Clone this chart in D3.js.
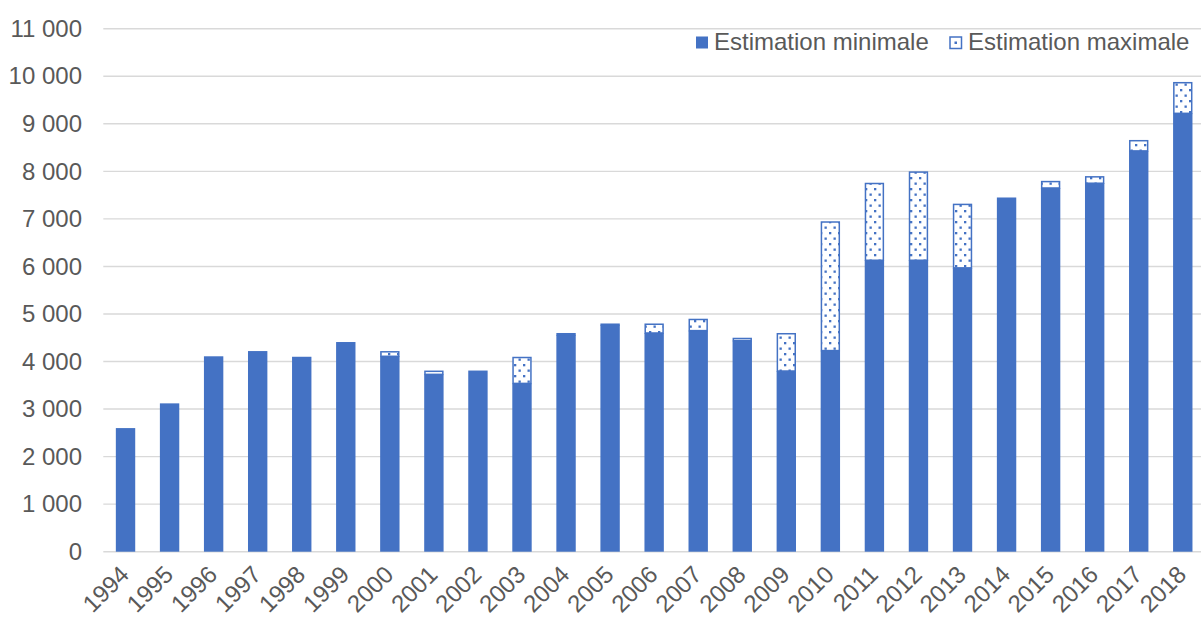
<!DOCTYPE html>
<html><head><meta charset="utf-8">
<script src="https://cdn.jsdelivr.net/npm/d3@7"></script>
<style>
html,body{margin:0;padding:0;background:#fff;}
svg{display:block;font-family:"Liberation Sans",Arial,sans-serif;}
</style></head>
<body>
<svg id="chart" width="1201" height="618"></svg>
<script>
const years = ["1994","1995","1996","1997","1998","1999","2000","2001","2002","2003","2004","2005","2006","2007","2008","2009","2010","2011","2012","2013","2014","2015","2016","2017","2018"];
const minValues = [2600,3120,4110,4220,4100,4410,4110,3730,3810,3540,4560,4770,4600,4650,4440,3800,4230,6130,6130,5970,7450,7650,7750,8430,9220];
const maxValues = [2600,3120,4110,4220,4100,4410,4220,3810,3810,4100,4600,4800,4800,4900,4500,4600,6950,7760,8000,7320,7450,7800,7900,8660,9880];
const yTicks = [0,1000,2000,3000,4000,5000,6000,7000,8000,9000,10000,11000];
const seriesNames = ["Estimation minimale","Estimation maximale"];

const blue = "#4472c4", grid = "#d9d9d9", textColor = "#595959";
const svg = d3.select("#chart");

const defs = svg.append("defs");
const pat = defs.append("pattern").attr("id","dots").attr("patternUnits","userSpaceOnUse")
  .attr("width",9).attr("height",11);
pat.append("rect").attr("width",9).attr("height",11).attr("fill","#fff");
pat.append("rect").attr("x",1).attr("y",1).attr("width",2.3).attr("height",2.3).attr("fill",blue);
pat.append("rect").attr("x",5.5).attr("y",6.5).attr("width",2.3).attr("height",2.3).attr("fill",blue);

const x = d3.scaleBand().domain(years).range([103.5, 1204.8]).paddingInner(0.56).paddingOuter(0.28);
const y = d3.scaleLinear().domain([0,11000]).range([551.7, 28.7]);
const loc = d3.formatLocale({decimal:",", thousands:" ", grouping:[3], currency:["","€"]});
const fmt = loc.format(",d");

// gridlines
svg.append("g").selectAll("line").data(yTicks).join("line")
  .attr("x1",103.3).attr("x2",1201)
  .attr("y1",d=>y(d)).attr("y2",d=>y(d))
  .attr("stroke",grid).attr("stroke-width",1.4);

// y axis labels
const yAxis = d3.axisLeft(y).tickValues(yTicks).tickFormat(fmt).tickSize(0).tickPadding(0);
const gy = svg.append("g").attr("transform","translate(82,0)").call(yAxis);
gy.select(".domain").remove();
gy.selectAll("text").attr("fill",textColor).attr("font-size",24).attr("font-family","Liberation Sans, Arial, sans-serif").attr("dy","0.32em");

// bars min
svg.append("g").selectAll("rect").data(years).join("rect")
  .attr("x",d=>x(d)).attr("width",x.bandwidth())
  .attr("y",(d,i)=>y(minValues[i])).attr("height",(d,i)=>y(0)-y(minValues[i]))
  .attr("fill",blue);

// bars max increment
svg.append("g").selectAll("rect").data(years.filter((d,i)=>maxValues[i]>minValues[i])).join("rect")
  .attr("x",d=>x(d)+0.75).attr("width",x.bandwidth()-1.5)
  .attr("y",d=>{const i=years.indexOf(d);return y(maxValues[i])+0.75;})
  .attr("height",d=>{const i=years.indexOf(d);return Math.max(0.5,y(minValues[i])-y(maxValues[i])-0.75);})
  .attr("fill","url(#dots)").attr("stroke",blue).attr("stroke-width",1.5);

// x axis labels
const xAxis = d3.axisBottom(x).tickSize(0).tickPadding(0);
const gx = svg.append("g").call(xAxis);
gx.select(".domain").remove();
gx.selectAll(".tick").attr("transform",d=>`translate(${x(d)+x.bandwidth()/2},0)`);
gx.selectAll("text").attr("fill",textColor).attr("font-size",24).attr("font-family","Liberation Sans, Arial, sans-serif")
  .attr("text-anchor","end").attr("dy",0).attr("y",0)
  .attr("transform","translate(5,576) rotate(-45)");

// legend
const lg = svg.append("g");
lg.append("rect").attr("x",696).attr("y",36.5).attr("width",12).attr("height",12).attr("fill",blue);
lg.append("text").attr("x",714).attr("y",50).attr("font-size",24).attr("fill",textColor).text(seriesNames[0]);
lg.append("rect").attr("x",950).attr("y",37).attr("width",11.5).attr("height",11.5).attr("fill","#fff").attr("stroke",blue).attr("stroke-width",1.5);
lg.append("rect").attr("x",954.5).attr("y",41.5).attr("width",2.5).attr("height",2.5).attr("fill",blue);
lg.append("text").attr("x",968).attr("y",50).attr("font-size",24).attr("fill",textColor).text(seriesNames[1]);
</script>
</body></html>
